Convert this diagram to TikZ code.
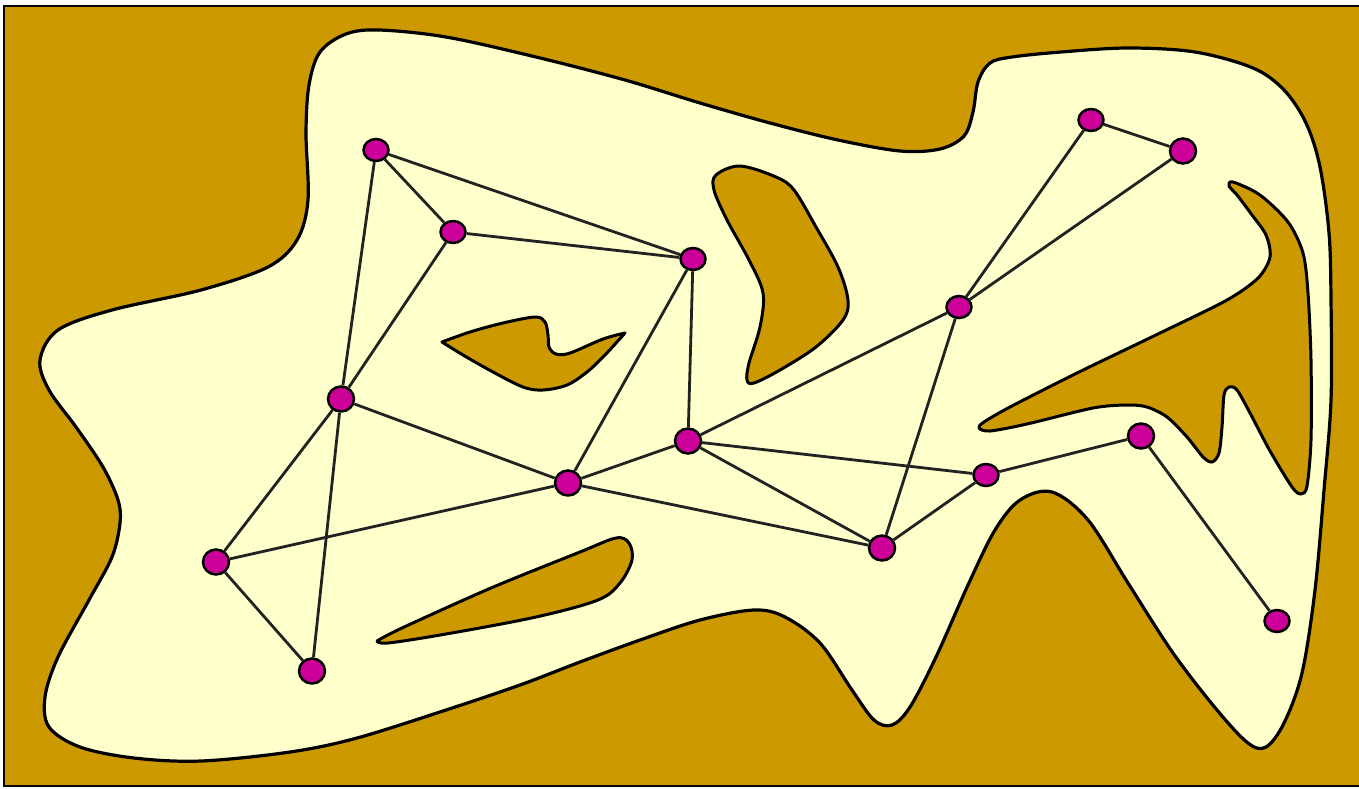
\documentclass[tikz,border=0pt]{standalone}
\usetikzlibrary{shapes.geometric}
\begin{document}
\begin{tikzpicture}[x=1pt,y=-1pt,
  vtx/.style={ellipse,draw=black,line width=2.5pt,fill=nodemag,minimum width=25pt,minimum height=22pt,inner sep=0pt},
  bigvtx/.style={vtx,minimum width=26pt,minimum height=25pt},
  edge/.style={draw=edgegray,line width=2.8pt},
  hole/.style={fill=bggold,draw=black,line width=3pt,line join=round},
  land/.style={fill=landyellow,draw=black,line width=3.2pt}]
\definecolor{bggold}{HTML}{CC9900}
\definecolor{landyellow}{HTML}{FFFFCC}
\definecolor{nodemag}{HTML}{CC0099}
\definecolor{edgegray}{HTML}{222222}
\useasboundingbox (0,0) rectangle (1359,788);
\path[fill=bggold,draw=black,line width=2.6pt] (4,6) rectangle (1362,786);
% outer land
\path[land] plot[smooth cycle,tension=0.55] coordinates {
(379,30) (446,37) (536,57) (625,80) (700,103) (770,123) (838,140) (900,151) (940,149) (964,136) (973,112) (978,82) (990,63) (1012,57) (1061,52) (1128,48) (1195,52) (1253,68) (1284,90) (1306,123) (1320,167) (1329,233) (1331,300) (1331,400) (1324,490) (1315,590) (1302,673) (1284,723) (1266,747) (1248,743) (1217,710) (1173,653) (1128,583) (1088,520) (1052,492) (1020,500) (995,530) (968,585) (936,657) (910,707) (892,725) (874,720) (852,690) (820,643) (785,617) (754,610) (700,620) (640,640) (580,662) (520,685) (446,710) (357,738) (290,752) (201,761) (134,758) (80,747) (49,727) (45,697) (58,657) (89,600) (112,557) (120,523) (118,500) (103,467) (76,427) (49,390) (40,360) (58,330) (112,310) (201,290) (268,267) (297,240) (308,200) (306,133) (309,85) (320,52) (346,34)};
% lip hole
\path[hole] plot[smooth,tension=0.55] coordinates {(442,342) (470,332) (503,323) (535,317) (545,322) (548,335) (549,347) (556,354) (570,353) (603,339) (625,333)}
  -- plot[smooth,tension=0.55] coordinates {(625,333) (605,355) (587,372) (567,385) (543,390) (523,387) (493,372) (463,355) (442,342)} -- cycle;
% crescent hole
\path[hole] plot[smooth cycle,tension=0.55] coordinates {
(740,166) (776,177) (794,190) (816,227) (838,267) (848,300) (843,320) (816,347) (780,370) (754,383) (747,380) (749,363) (760,327) (763,293) (749,260) (727,220) (714,190) (716,175)};
% teardrop hole
\path[hole] plot[smooth,tension=0.55] coordinates {(377,641) (402,628) (491,588) (580,552) (616,538) (629,543) (632,560) (620,583) (598,600) (536,617) (446,634) (388,643) (377,641)} -- cycle;
% right hole
\path[hole] plot[smooth cycle,tension=0.5] coordinates {
(1233,182) (1260,195) (1288,222) (1303,253) (1308,293) (1311,360) (1311,440) (1307,486) (1301,494) (1292,487) (1270,451) (1250,413) (1237,390) (1229,387) (1224,395) (1222,427) (1219,453) (1212,462) (1203,457) (1187,437) (1167,417) (1147,407) (1127,405) (1093,408) (1027,424) (990,431) (979,428) (984,422) (1010,407) (1077,373) (1160,333) (1227,300) (1258,278) (1270,257) (1266,235) (1252,215) (1237,195) (1229,186)};
% nodes
\node[vtx] (a) at (376,150) {};
\node[vtx] (b) at (453,232) {};
\node[vtx] (c) at (693,259) {};
\node[bigvtx] (d) at (341,399) {};
\node[bigvtx] (e) at (568,483) {};
\node[bigvtx] (f) at (688,441) {};
\node[bigvtx] (g) at (216,562) {};
\node[bigvtx] (h) at (312,671) {};
\node[bigvtx] (i) at (882,548) {};
\node[vtx] (j) at (986,475) {};
\node[vtx] (k) at (959,307) {};
\node[vtx] (l) at (1091,120) {};
\node[bigvtx] (m) at (1183,151) {};
\node[bigvtx] (n) at (1141,436) {};
\node[vtx] (o) at (1277,621) {};
% edges
\path[edge] (a) -- (b) (a) -- (c) (a) -- (d) (b) -- (c) (b) -- (d)
  (c) -- (e) (c) -- (f) (d) -- (e) (d) -- (g) (d) -- (h) (g) -- (e) (g) -- (h)
  (e) -- (f) (e) -- (i) (f) -- (k) (f) -- (j) (f) -- (i) (i) -- (j) (i) -- (k)
  (k) -- (l) (k) -- (m) (l) -- (m) (j) -- (n) (n) -- (o);
\end{tikzpicture}
\end{document}
